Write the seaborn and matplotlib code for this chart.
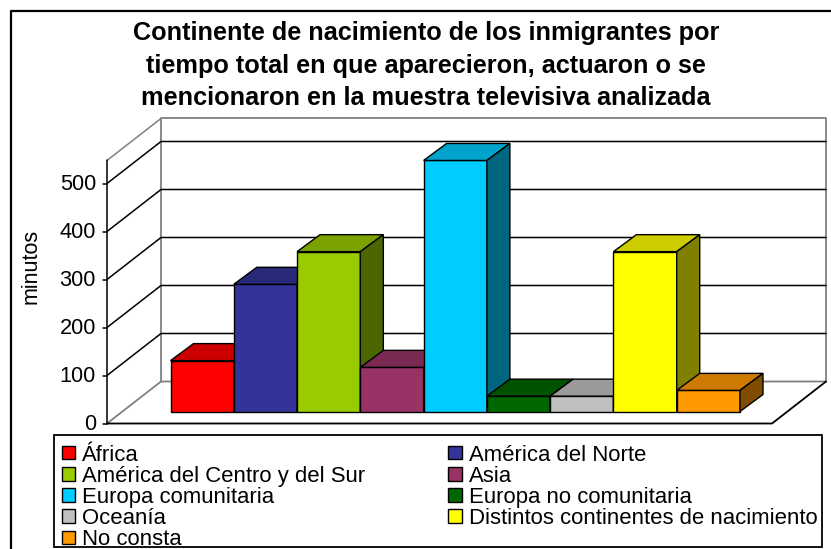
import matplotlib
matplotlib.use("Agg")
import matplotlib.pyplot as plt
from matplotlib.patches import Polygon, Patch, Rectangle
import seaborn as sns
import pandas as pd

continents = ["África", "América del Norte", "América del Centro y del Sur", "Asia",
              "Europa comunitaria", "Europa no comunitaria", "Oceanía",
              "Distintos continentes de nacimiento", "No consta"]
minutes = [106, 265, 333, 92, 523, 32, 32, 333, 44]
colors = ["#FF0000", "#333399", "#99CC00", "#993366", "#00CCFF", "#006600", "#C0C0C0", "#FFFF00", "#FF9900"]
yticks = [0, 100, 200, 300, 400, 500]
title = ("Continente de nacimiento de los inmigrantes por\n"
         "tiempo total en que aparecieron, actuaron o se\n"
         "mencionaron en la muestra televisiva analizada")

W, H = 831, 549
sns.set_theme(style="white")
plt.rcParams["font.family"] = ["Liberation Sans", "DejaVu Sans"]

fig = plt.figure(figsize=(W / 100, H / 100), dpi=100, facecolor="white")

# pixel space axes for the frame, walls and floor
bg = fig.add_axes([0, 0, 1, 1], zorder=0)
bg.set_xlim(0, W)
bg.set_ylim(H, 0)
bg.axis("off")

bg.plot([10.5, 10.5, W], [H, 10.5, 10.5], color="black", lw=1.6)

PX = 0.48  # pixels per minute
fx, fy0 = 107, 423.5   # front corner of the floor
bx, by0 = 161, 381.5   # back corner of the floor
fr, br = 772, 826
top = 548

grey = "#808080"
bg.plot([bx, bx, br, br], [by0, by0 - top * PX, by0 - top * PX, by0], color=grey, lw=1.3)
bg.plot([fx, bx], [fy0 - top * PX, by0 - top * PX], color=grey, lw=1.1)
bg.plot([fx, bx, br], [fy0, by0, by0], color=grey, lw=1.3)
bg.plot([fx, fr, br], [fy0, fy0, by0], color="black", lw=1.3)
bg.plot([fx, fx], [fy0, fy0 - top * PX], color="black", lw=1.1)

for v in yticks:
    y_f = fy0 - v * PX
    y_b = by0 - v * PX
    if v > 0:
        bg.plot([fx, bx, br], [y_f, y_b, y_b], color="black", lw=1.1)
    bg.plot([fx - 4, fx], [y_f, y_f], color="black", lw=1.1)
    bg.text(fx - 11, y_f + 0.5, str(v), ha="right", va="center", fontsize=15.7, color="black")

bg.text(31, 266, "minutos", rotation=90, ha="center", va="center", fontsize=15.5, color="black")
bg.text(426, 65.5, title, ha="center", va="center", fontsize=18.2, fontweight="bold",
        color="black", linespacing=1.47)

# bars
x0, x1, y_base, y_top = 170.5, 740, 411.5, 160
ax = fig.add_axes([x0 / W, 1 - y_base / H, (x1 - x0) / W, (y_base - y_top) / H], zorder=1)
ax.patch.set_alpha(0)
df = pd.DataFrame({"continent": continents, "minutes": minutes})
sns.barplot(data=df, x="continent", y="minutes", hue="continent", palette=colors, width=1,
            edgecolor="black", linewidth=1.0, legend=False, saturation=1, ax=ax)
ax.set_xlim(-0.5, len(continents) - 0.5)
ax.set_ylim(0, (y_base - y_top) / PX)
ax.axis("off")

dx = 23 / ((x1 - x0) / len(continents))
dy = 17 / PX


def shade(c, f):
    r, g, b = matplotlib.colors.to_rgb(c)
    return (r * f, g * f, b * f)


for i, (bar, c) in enumerate(zip(ax.patches, colors)):
    xl = bar.get_x()
    xr = xl + bar.get_width()
    h = bar.get_height()
    bar.set_zorder(10 + i)
    bar.set_clip_on(False)
    ax.add_patch(Polygon([(xl, h), (xl + dx, h + dy), (xr + dx, h + dy), (xr, h)], closed=True,
                         facecolor=shade(c, 0.8), edgecolor="black", lw=1.0, zorder=10 + i, clip_on=False))
    ax.add_patch(Polygon([(xr, 0), (xr + dx, dy), (xr + dx, h + dy), (xr, h)], closed=True,
                         facecolor=shade(c, 0.5), edgecolor="black", lw=1.0, zorder=10 + i, clip_on=False))

# legend box drawn apart, entries column by column so it reads row by row
bg.add_patch(Rectangle((54, 435), 768, 112, facecolor="white", edgecolor="black", lw=1.3))
handles = [Patch(facecolor=c, edgecolor="black", lw=1.0, label=n) for n, c in zip(continents, colors)]
order = [0, 2, 4, 6, 8, 1, 3, 5, 7]
leg = fig.legend([handles[i] for i in order], [continents[i] for i in order], ncol=2,
                 loc="lower left", bbox_to_anchor=(62 / W, 1 - 550 / H),
                 borderaxespad=0, borderpad=0, fontsize=15.9, frameon=False,
                 labelspacing=0.005, handlelength=0.6, handleheight=0.55, handletextpad=0.32,
                 columnspacing=3.76, labelcolor="black")
leg.set_zorder(30)

fig.savefig("out.png", dpi=100)
